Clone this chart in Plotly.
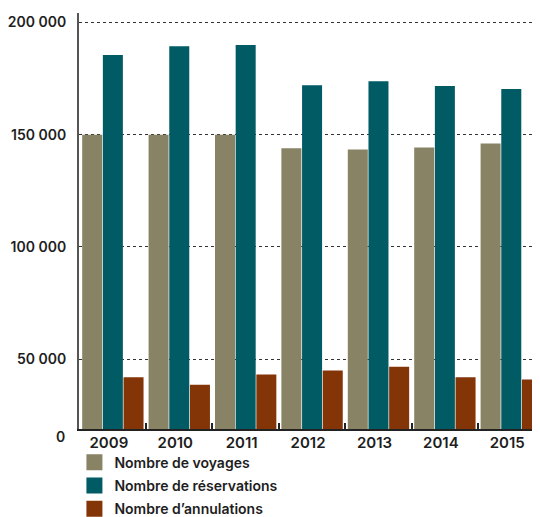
import plotly.graph_objects as go

years = ["2009", "2010", "2011", "2012", "2013", "2014", "2015"]
voyages = [150000, 150000, 150000, 143900, 143400, 144300, 146100]
reservations = [185400, 189400, 189900, 172000, 173800, 171600, 170300]
annulations = [42000, 38700, 43200, 45000, 46700, 42000, 41000]

series_names = ["Nombre de voyages", "Nombre de réservations", "Nombre d’annulations"]
series_colors = ["#878364", "#005B64", "#833508"]

y_tickvals = [50000, 100000, 150000, 200000]
y_ticktext = ["50 000", "100 000", "150 000", "200 000"]
y_min, y_max = 18960, 204150

FONT = "Inter"
TXT = "#1e1e1e"

legend_ids = ["legend", "legend2", "legend3"]
legend_y = [0.1515, 0.1065, 0.0615]

fig = go.Figure()
for name, vals, col, lg in zip(series_names, [voyages, reservations, annulations],
                               series_colors, legend_ids):
    fig.add_trace(go.Bar(x=years, y=vals, name=name, marker=dict(color=col, line=dict(width=0)),
                         showlegend=False))
    # legend proxy with larger square swatch
    fig.add_trace(go.Scatter(x=[None], y=[None], mode="markers", name=name, legend=lg,
                             marker=dict(symbol="square", size=16, color=col)))

fig.add_annotation(text="0", xref="paper", yref="y", x=0, y=y_min, xanchor="right",
                   yanchor="middle", xshift=-12, yshift=-7, showarrow=False,
                   font=dict(family=FONT, size=14, color=TXT, weight=600))

legend_common = dict(xref="container", yref="container", x=0.123, xanchor="left",
                     yanchor="top", orientation="v",
                     font=dict(family=FONT, size=14, color=TXT, weight=600),
                     itemsizing="trace", bgcolor="rgba(0,0,0,0)")

fig.update_layout(
    width=540, height=517,
    margin=dict(l=71, r=0, t=5, b=96, autoexpand=False),
    paper_bgcolor="white", plot_bgcolor="white",
    barmode="group", bargap=0.066, bargroupgap=0.032,
    font=dict(family=FONT, size=14, color=TXT),
    showlegend=True,
    legend=dict(y=legend_y[0], **legend_common),
    legend2=dict(y=legend_y[1], **legend_common),
    legend3=dict(y=legend_y[2], **legend_common),
    xaxis=dict(type="category", range=[-0.51, 6.553], showline=True, linecolor="#222",
               linewidth=2, ticks="inside", tickson="boundaries", ticklen=6, tickwidth=1.5,
               tickcolor="#222", showgrid=False, ticklabelshift=-4, ticklabelstandoff=-1,
               automargin=False,
               tickfont=dict(family=FONT, size=15, color=TXT, weight=600), fixedrange=True),
    yaxis=dict(range=[y_min, y_max], tickvals=y_tickvals, ticktext=y_ticktext,
               showline=True, linecolor="#555", linewidth=2, ticks="", showgrid=True,
               gridcolor="#333", gridwidth=1, griddash="dot", zeroline=False,
               ticklabelstandoff=8, automargin=False,
               tickfont=dict(family=FONT, size=14, color=TXT, weight=600)),
)

fig.write_html("out.html")
